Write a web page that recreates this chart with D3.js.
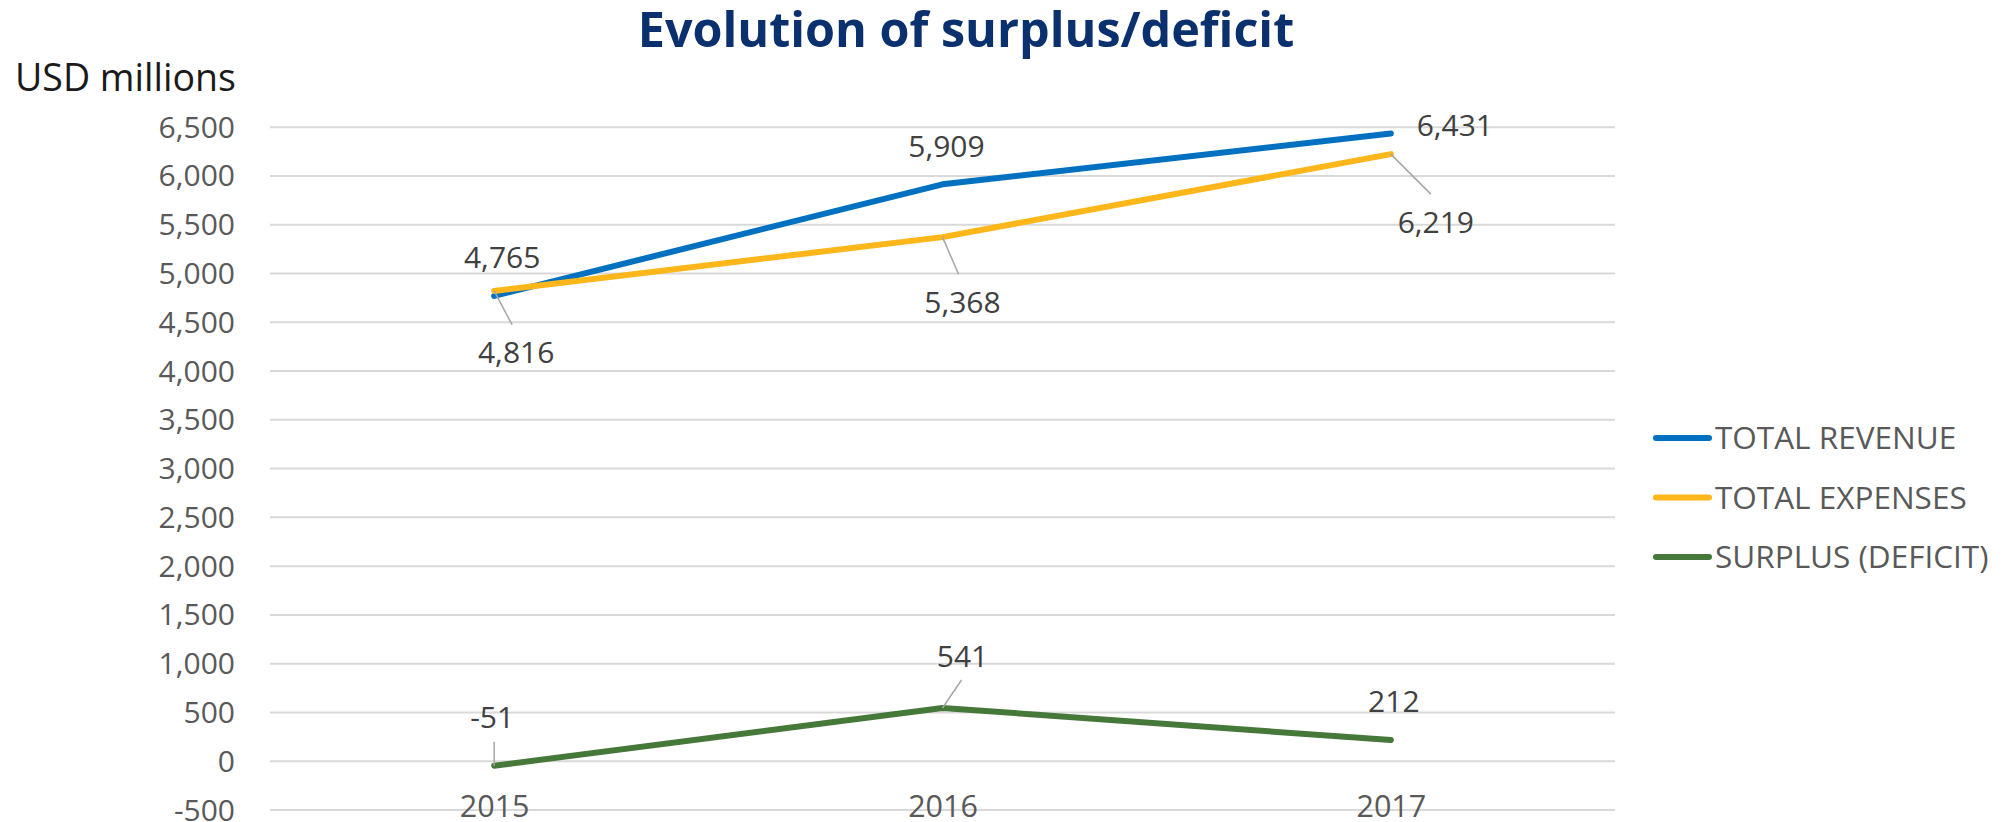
<!DOCTYPE html>
<html>
<head>
<meta charset="utf-8">
<script src="https://cdn.jsdelivr.net/npm/d3@7"></script>
<style>
  html, body { margin: 0; padding: 0; background: #ffffff; }
  svg { display: block; }
  text { font-family: "Open Sans", "Noto Sans", sans-serif; }
</style>
</head>
<body>
<svg id="chart" width="2011" height="822"></svg>
<script>
// ---- data ----
const categories = ["2015", "2016", "2017"];
const totalRevenue = [4765, 5909, 6431];
const totalExpenses = [4816, 5368, 6219];
const surplusDeficit = [-51, 541, 212];
const yTickValues = [-500, 0, 500, 1000, 1500, 2000, 2500, 3000, 3500, 4000, 4500, 5000, 5500, 6000, 6500];
const seriesNames = ["TOTAL REVENUE", "TOTAL EXPENSES", "SURPLUS (DEFICIT)"];
const titleText = "Evolution of surplus/deficit";
const unitText = "USD millions";

// ---- layout / style (not data) ----
const W = 2011, H = 822;
const plot = { left: 270, right: 1615, top: 126.7, bottom: 809.5 };
const colors = ["#0070c0", "#fdb71a", "#46783a"];
const lineWidth = 6;

// label placement relative to the point: [dx, dy(baseline)], optional leader end [lx, ly]
const labelPlacement = [
  [ {d:[8,-28]},            {d:[4,-27]},            {d:[64,3]} ],
  [ {d:[22,72], l:[18,34]}, {d:[20,76], l:[16,37]}, {d:[45,79], l:[40,40]} ],
  [ {d:[-2,-38], l:[0,-24]},{d:[20,-41], l:[19,-28]},{d:[3,-28]} ]
];

const series = [totalRevenue, totalExpenses, surplusDeficit];

const locale = d3.formatLocale({ decimal: ".", thousands: ",", grouping: [3], currency: ["$", ""], minus: "-" });
const fmt = locale.format(",");

const svg = d3.select("#chart");

const x = d3.scalePoint().domain(categories).range([plot.left, plot.right]).padding(0.5);
const y = d3.scaleLinear().domain([-500, 6500]).range([plot.bottom, plot.top]);

// title
svg.append("text")
  .attr("x", 966).attr("y", 46.7)
  .attr("text-anchor", "middle")
  .style("font-size", "48.5px").style("font-weight", 700)
  .style("fill", "#0b306e")
  .text(titleText);

// unit label
svg.append("text")
  .attr("x", 15).attr("y", 90.5)
  .style("font-size", "37.5px").style("fill", "#1a1a1a")
  .text(unitText);

// gridlines
const yAxis = d3.axisLeft(y).tickValues(yTickValues)
  .tickSize(-(plot.right - plot.left))
  .tickPadding(35)
  .tickFormat(fmt);
const gy = svg.append("g").attr("transform", `translate(${plot.left},0)`).call(yAxis);
gy.select(".domain").remove();
gy.selectAll(".tick line").attr("stroke", "#d9d9d9").attr("stroke-width", 2);
gy.selectAll(".tick text")
  .style("font-size", "30px").style("fill", "#595959")
  .attr("dy", "0.35em");

// x axis labels (no axis line)
const xAxis = d3.axisBottom(x).tickSize(0).tickPadding(0);
const gx = svg.append("g").attr("transform", `translate(0,${plot.bottom})`).call(xAxis);
gx.select(".domain").remove();
gx.selectAll(".tick text")
  .style("font-size", "30.5px").style("fill", "#595959")
  .attr("y", 0).attr("dy", "7px");

// lines
const line = d3.line().x((d, i) => x(categories[i])).y(d => y(d));
series.forEach((vals, si) => {
  svg.append("path")
    .datum(vals)
    .attr("d", line)
    .attr("fill", "none")
    .attr("stroke", colors[si])
    .attr("stroke-width", lineWidth)
    .attr("stroke-linecap", "round")
    .attr("stroke-linejoin", "round");
});

// data labels + leader lines
series.forEach((vals, si) => {
  vals.forEach((v, i) => {
    const px = x(categories[i]), py = y(v);
    const p = labelPlacement[si][i];
    if (p.l) {
      svg.append("line")
        .attr("x1", px).attr("y1", py)
        .attr("x2", px + p.l[0]).attr("y2", py + p.l[1])
        .attr("stroke", "#a6a6a6").attr("stroke-width", 1.5);
    }
    svg.append("text")
      .attr("x", px + p.d[0]).attr("y", py + p.d[1])
      .attr("text-anchor", "middle")
      .style("font-size", "30px").style("fill", "#404040")
      .text(fmt(v));
  });
});

// legend
const legend = svg.append("g");
const legendY = [438, 497.5, 557];
seriesNames.forEach((name, si) => {
  legend.append("line")
    .attr("x1", 1656).attr("x2", 1709)
    .attr("y1", legendY[si]).attr("y2", legendY[si])
    .attr("stroke", colors[si]).attr("stroke-width", lineWidth)
    .attr("stroke-linecap", "round");
  legend.append("text")
    .attr("x", 1715).attr("y", legendY[si])
    .attr("dy", "0.36em")
    .style("font-size", "31.5px").style("fill", "#595959")
    .text(name);
});
</script>
</body>
</html>
